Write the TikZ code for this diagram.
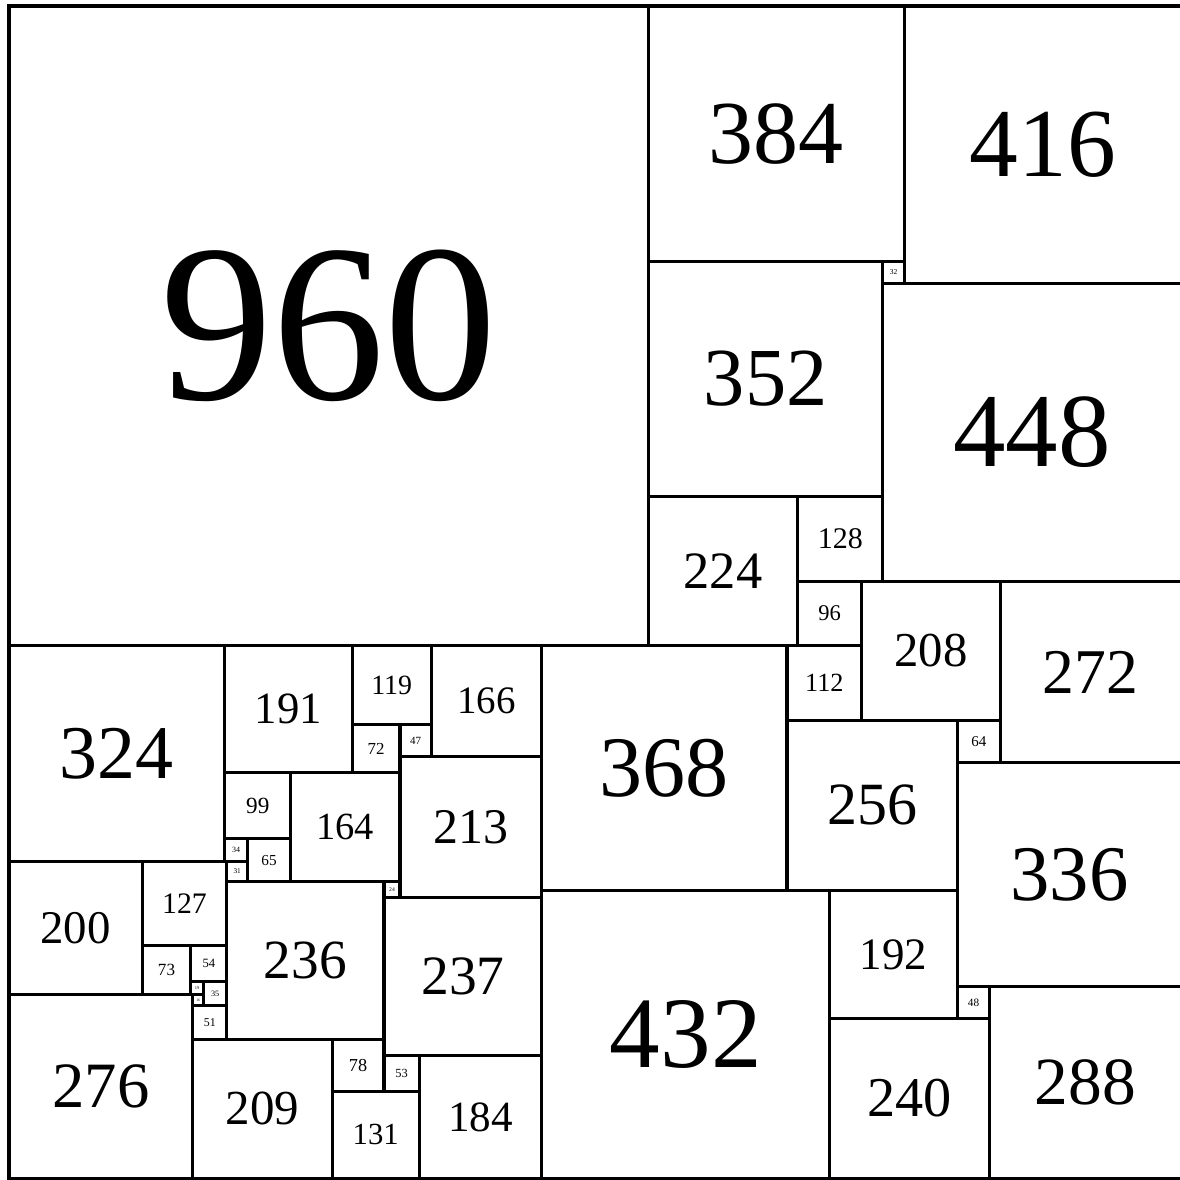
\documentclass[tikz,border=0pt]{standalone}
\usepackage{fontspec}
\setmainfont{Liberation Serif}
\usetikzlibrary{positioning}

\begin{document}
\begin{tikzpicture}[
    x=0.01cm, y=-0.01cm,
    tile/.style={
      draw=black,
      line width=1.3pt
    },
    tilelabel/.style={
      inner sep=0pt,
      anchor=center
    }]

    % fix the frame, with the thin margins of the reference (right edge cut)
    \useasboundingbox (-13.5,-9) rectangle (1758,1762.5);

    % squared square of side 1760: left/top/side of each tile
    \foreach \x/\y/\s [evaluate=\s as \fs using 0.1*\s] in {
        0/0/960, 960/0/384, 1344/0/416, 1312/384/32, 960/384/352,
        1312/416/448, 960/736/224, 1184/736/128, 1184/864/96,
        1280/864/208, 1488/864/272, 1168/960/112,
        0/960/324, 0/1284/200, 0/1484/276,
        324/960/191, 515/960/119, 634/960/166, 800/960/368,
        515/1079/72, 587/1079/47, 587/1126/213,
        324/1151/99, 423/1151/164, 324/1250/34, 358/1250/65,
        327/1284/31, 200/1284/127, 327/1315/236, 563/1315/24,
        563/1339/237, 200/1411/73, 273/1411/54, 273/1465/19,
        276/1484/16, 292/1465/35, 276/1500/51,
        276/1551/209, 485/1551/78, 485/1629/131, 563/1576/53,
        616/1576/184, 800/1328/432,
        1168/1072/256, 1232/1328/192, 1232/1520/240,
        1424/1072/64, 1424/1136/336, 1424/1472/48, 1472/1472/288}
    {
      \draw[tile] (\x,\y) rectangle ++(\s,\s);
      \node[tilelabel, font=\fontsize{\fs pt}{\fs pt}\selectfont]
        (sq\s) at (\x+\s/2,\y+\s/2) {\s};
    }
\end{tikzpicture}
\end{document}
